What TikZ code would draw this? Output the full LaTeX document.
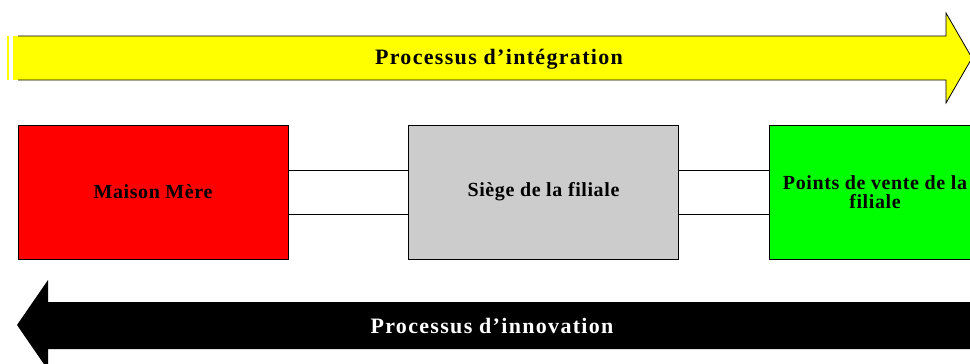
\documentclass[tikz,border=0pt]{standalone}
\usepackage{fontspec}
\usepackage{tikz}
\usepackage{xcolor}
\newfontfamily\boxfont[LetterSpace=3]{Liberation Serif}
\newfontfamily\bannerfont[LetterSpace=6]{Liberation Serif}
\definecolor{jaune}{HTML}{FFFF00}
\definecolor{rouge}{HTML}{FF0000}
\definecolor{gris}{HTML}{CCCCCC}
\definecolor{vert}{HTML}{00FF00}
\tikzset{entite/.style={draw,line width=0.8pt,minimum width=270pt,minimum height=134pt,inner sep=0pt,font=\boxfont\bfseries\fontsize{20}{20}\selectfont}}
\tikzset{lien/.style={line width=0.8pt}}
\tikzset{banner/.style={font=\bannerfont\bfseries\fontsize{22}{22}\selectfont}}

\begin{document}
\begin{tikzpicture}[x=1pt,y=-1pt]
            \useasboundingbox (0,0) rectangle (970,364);
            % draw the upper arrow (integration)
            \fill[jaune] (7,36) rectangle (9,80);
            \fill[jaune] (13,36) rectangle (18,80);
            \filldraw[fill=jaune,draw=black,line width=0.8pt] (18,36) -- (946,36) -- (946,13) -- (972,58) -- (946,103) -- (946,80) -- (18,80);
            \node[banner] (integration) at (499,59) {Processus d’intégration};
            % draw the lower arrow (innovation)
            \fill[black] (1000,302) -- (48,302) -- (48,280) -- (17,325) -- (48,370) -- (48,349) -- (1000,349) -- cycle;
            \node[banner,text=white] (innovation) at (492,326) {Processus d’innovation};
            % draw the boxes
            \node[entite,fill=rouge] (mere) at (153,192) {Maison Mère};
            \node[entite,fill=gris] (siege) at (543.5,192) {Siège de la filiale};
            \node[entite,fill=vert] (vente) at (904,192) {};
            \node[align=center,inner sep=0pt,font=\boxfont\bfseries\fontsize{20}{19}\selectfont] (ventetxt) at (875,192) {Points de vente de la\\filiale};
            % draw the links
            \draw[lien] ([yshift=22pt]mere.east) -- ([yshift=22pt]siege.west);
            \draw[lien] ([yshift=-22pt]mere.east) -- ([yshift=-22pt]siege.west);
            \draw[lien] ([yshift=22pt]siege.east) -- ([yshift=22pt]vente.west);
            \draw[lien] ([yshift=-22pt]siege.east) -- ([yshift=-22pt]vente.west);
        \end{tikzpicture}
\end{document}
